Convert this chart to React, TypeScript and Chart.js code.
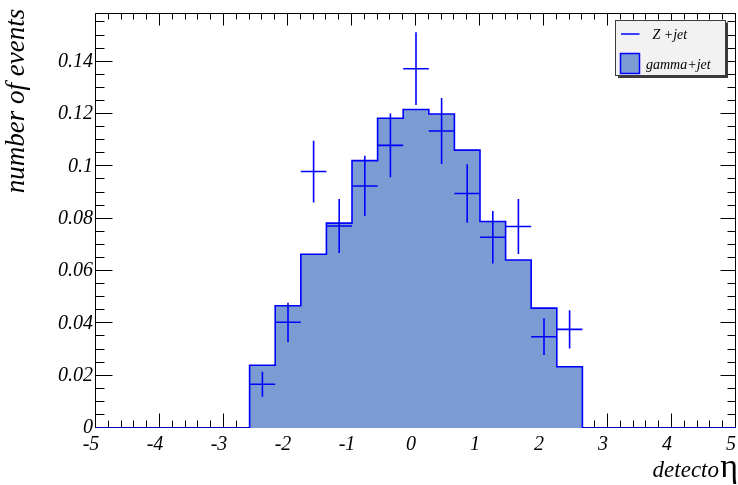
import React, { useEffect, useRef } from 'react';
import { Chart, registerables } from 'chart.js';

Chart.register(...registerables);

// ---- data ----
const binEdges = [-5, -4.6, -4.2, -3.8, -3.4, -3.0, -2.6, -2.2, -1.8, -1.4, -1.0, -0.6, -0.2, 0.2, 0.6, 1.0, 1.4, 1.8, 2.2, 2.6, 3.0, 3.4, 3.8, 4.2, 4.6, 5.0];
const gammaJet = [0, 0, 0, 0, 0, 0, 0.0240, 0.0467, 0.0664, 0.0783, 0.1022, 0.1184, 0.1217, 0.1200, 0.1062, 0.0789, 0.0642, 0.0458, 0.0234, 0, 0, 0, 0, 0, 0];

const zJetEta = [-2.4, -2.0, -1.6, -1.2, -0.8, -0.4, 0.0, 0.4, 0.8, 1.2, 1.6, 2.0, 2.4];
const zJetValues = [0.0167, 0.0404, 0.0980, 0.0772, 0.0925, 0.1080, 0.1373, 0.1135, 0.0896, 0.0729, 0.0770, 0.0349, 0.0377];
const zJetErrors = [0.0048, 0.0075, 0.0118, 0.0103, 0.0115, 0.0122, 0.0139, 0.0126, 0.0112, 0.0100, 0.0105, 0.0070, 0.0073];
const zJetHalfBin = 0.2;

const xTickLabels = ['-5', '-4', '-3', '-2', '-1', '0', '1', '2', '3', '4', '5'];
const yTickLabels = ['0', '0.02', '0.04', '0.06', '0.08', '0.1', '0.12', '0.14'];

const X_MIN = -5, X_MAX = 5, X_MAJOR = 1, X_MINOR = 0.2;
const Y_MIN = 0, Y_MAX = 0.1586, Y_MAJOR = 0.02, Y_MINOR = 0.005;

const BLUE = '#0000ff';
const FILL = 'rgb(123,155,210)';

const frameTicksPlugin = {
  id: 'frameTicks',
  beforeDatasetsDraw(chart: any) {
    const { ctx, chartArea: a, scales } = chart;
    const xs = scales.x, ys = scales.y;
    ctx.save();
    ctx.strokeStyle = '#000';
    ctx.lineWidth = 1;
    const L = Math.round(a.left) - 0.5, R = Math.round(a.right) - 0.5;
    const T = Math.round(a.top) + 0.5, B = Math.round(a.bottom) - 0.5;
    ctx.beginPath();
    ctx.moveTo(L, B); ctx.lineTo(L, T); ctx.lineTo(R, T); ctx.lineTo(R, B); ctx.lineTo(L, B);
    ctx.stroke();
    ctx.beginPath();
    const nx = Math.round((X_MAX - X_MIN) / X_MINOR);
    for (let i = 0; i <= nx; i++) {
      const v = X_MIN + i * X_MINOR;
      const major = Math.abs(v / X_MAJOR - Math.round(v / X_MAJOR)) < 1e-6;
      const px = Math.round(xs.getPixelForValue(v)) - 0.5;
      const lb = major ? 14 : 7;
      const lt = major ? 12 : 6;
      ctx.moveTo(px, B); ctx.lineTo(px, B - lb);
      ctx.moveTo(px, T); ctx.lineTo(px, T + lt);
    }
    const ny = Math.floor((Y_MAX - Y_MIN) / Y_MINOR + 1e-6);
    for (let i = 0; i <= ny; i++) {
      const v = Y_MIN + i * Y_MINOR;
      const major = Math.abs(v / Y_MAJOR - Math.round(v / Y_MAJOR)) < 1e-6;
      const py = Math.round(ys.getPixelForValue(v)) - 0.5;
      const ll = major ? 17 : 9;
      const lr = major ? 15 : 8;
      ctx.moveTo(L, py); ctx.lineTo(L + ll, py);
      ctx.moveTo(R, py); ctx.lineTo(R - lr, py);
    }
    ctx.stroke();
    ctx.restore();
  },
  afterDatasetsDraw(chart: any) {
    const { ctx } = chart;
    const meta = chart.getDatasetMeta(1);
    const xs = chart.scales.x, ys = chart.scales.y;
    ctx.save();
    ctx.strokeStyle = BLUE;
    ctx.lineWidth = 1.6;
    ctx.beginPath();
    meta.data.forEach((pt: any, i: number) => {
      const xl = xs.getPixelForValue(zJetEta[i] - zJetHalfBin);
      const xr = xs.getPixelForValue(zJetEta[i] + zJetHalfBin);
      const yt = ys.getPixelForValue(zJetValues[i] + zJetErrors[i]);
      const yb = ys.getPixelForValue(zJetValues[i] - zJetErrors[i]);
      ctx.moveTo(xl, pt.y); ctx.lineTo(xr, pt.y);
      ctx.moveTo(pt.x, yt); ctx.lineTo(pt.x, yb);
    });
    ctx.stroke();
    ctx.restore();
  },
  afterDraw(chart: any) {
    const { ctx } = chart;
    ctx.save();
    // y title
    ctx.translate(17, 101);
    ctx.rotate(-Math.PI / 2);
    ctx.font = 'italic 27px "Liberation Serif", "Times New Roman", serif';
    ctx.fillStyle = '#000';
    ctx.textAlign = 'center';
    ctx.textBaseline = 'middle';
    ctx.fillText('number of events', 0, 0);
    ctx.restore();

    // x title
    ctx.save();
    ctx.fillStyle = '#000';
    ctx.textBaseline = 'alphabetic';
    ctx.textAlign = 'right';
    ctx.font = '34px "Liberation Serif", "Times New Roman", serif';
    ctx.fillText('η', 738, 477);
    ctx.font = 'italic 23px "Liberation Serif", "Times New Roman", serif';
    ctx.fillText('detecto', 719, 477);
    ctx.restore();

    // legend
    ctx.save();
    ctx.fillStyle = '#3a3a3a';
    ctx.fillRect(618, 22.5, 110, 55.5);
    ctx.fillStyle = '#f2f2f2';
    ctx.fillRect(615.5, 20, 110, 55.5);
    ctx.strokeStyle = '#3a3a3a';
    ctx.lineWidth = 1;
    ctx.strokeRect(615.5, 20.5, 110, 55);
    ctx.strokeStyle = BLUE;
    ctx.lineWidth = 1.5;
    ctx.beginPath();
    ctx.moveTo(621, 34); ctx.lineTo(639.5, 34);
    ctx.stroke();
    ctx.fillStyle = FILL;
    ctx.fillRect(620.5, 53.5, 19, 20);
    ctx.strokeRect(620.5, 53.5, 19, 20);
    ctx.fillStyle = '#000';
    ctx.font = 'italic 14px "Liberation Serif", "Times New Roman", serif';
    ctx.textAlign = 'left';
    ctx.textBaseline = 'alphabetic';
    ctx.fillText('Z +jet', 652.5, 38.5);
    ctx.fillText('gamma+jet', 646, 68.5);
    ctx.restore();
  },
};

export default function App() {
  const ref = useRef<HTMLCanvasElement>(null);
  useEffect(() => {
    if (!ref.current) return;
    const histPoints = binEdges.map((x, i) => ({ x, y: i < gammaJet.length ? gammaJet[i] : 0 }));
    const zPoints = zJetEta.map((x, i) => ({ x, y: zJetValues[i] }));
    const chart = new Chart(ref.current, {
      type: 'line',
      data: {
        datasets: [
          {
            label: 'gamma+jet',
            data: histPoints,
            stepped: true,
            fill: 'origin',
            backgroundColor: FILL,
            borderColor: BLUE,
            borderWidth: 1.6,
            pointRadius: 0,
            tension: 0,
          } as any,
          {
            label: 'Z +jet',
            type: 'scatter',
            data: zPoints,
            pointRadius: 0,
            showLine: false,
            borderColor: BLUE,
          } as any,
        ],
      },
      options: {
        animation: false,
        responsive: false,
        devicePixelRatio: 1,
        layout: { padding: { top: 13, right: 2, left: 0, bottom: 0 } },
        plugins: { legend: { display: false }, tooltip: { enabled: false } },
        scales: {
          x: {
            type: 'linear',
            min: X_MIN,
            max: X_MAX,
            grid: { display: false, drawTicks: false },
            border: { display: false },
            ticks: {
              stepSize: X_MAJOR,
              includeBounds: false,
              maxRotation: 0,
              autoSkip: false,
              padding: 5,
              labelOffset: -5,
              color: '#000',
              font: { family: '"Liberation Serif", "Times New Roman", serif', size: 20, style: 'italic' },
              callback: (_v: any, i: number) => xTickLabels[i],
            },
            afterFit: (s: any) => { s.height = 57; s.paddingLeft = 0; s.paddingRight = 0; },
          },
          y: {
            type: 'linear',
            min: Y_MIN,
            max: Y_MAX,
            grid: { display: false, drawTicks: false },
            border: { display: false },
            ticks: {
              stepSize: Y_MAJOR,
              includeBounds: false,
              autoSkip: false,
              padding: 3,
              color: '#000',
              font: { family: '"Liberation Serif", "Times New Roman", serif', size: 20, style: 'italic' },
              callback: (_v: any, i: number) => yTickLabels[i],
            },
            afterFit: (s: any) => { s.width = 96; s.paddingTop = 0; s.paddingBottom = 0; },
          },
        },
      },
      plugins: [frameTicksPlugin],
    });
    return () => chart.destroy();
  }, []);
  return (
    <div style={{ position: 'fixed', left: 0, top: 0, width: 738, height: 485, background: '#fff' }}>
      <canvas ref={ref} width={738} height={485} style={{ display: 'block' }} />
    </div>
  );
}
